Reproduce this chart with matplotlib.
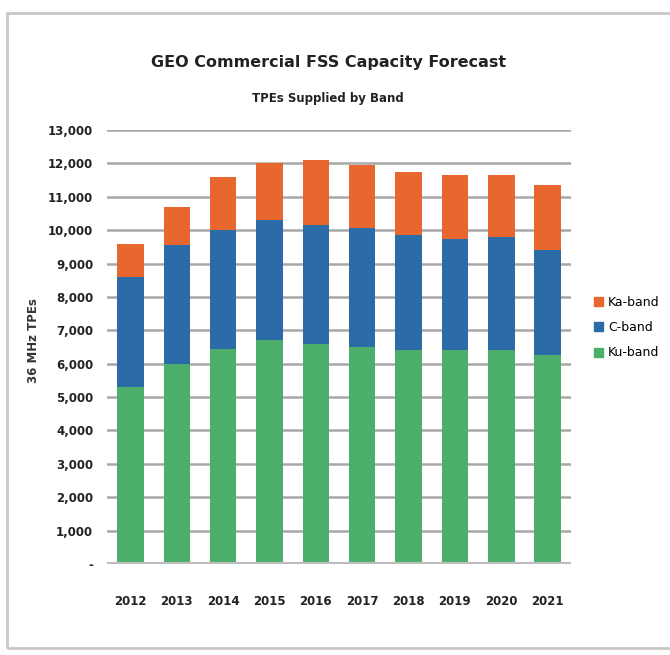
import matplotlib
matplotlib.use("Agg")
import matplotlib.pyplot as plt
from matplotlib.patches import Rectangle, Patch
import numpy as np

years = ["2012", "2013", "2014", "2015", "2016", "2017", "2018", "2019", "2020", "2021"]
ku_band = [5300, 6000, 6450, 6700, 6600, 6500, 6400, 6400, 6400, 6250]
c_band = [3300, 3550, 3550, 3600, 3550, 3550, 3450, 3350, 3400, 3150]
ka_band = [1000, 1150, 1600, 1700, 1950, 1900, 1900, 1900, 1850, 1950]

green = "#4BAE6A"
blue = "#2B6CA8"
orange = "#E8672F"
fam = "DejaVu Sans"

fig = plt.figure(figsize=(6.7, 6.55), dpi=100)
ax = fig.add_axes([0.16, 0.139, 0.692, 0.6625])

x = np.arange(len(years))
w = 0.57
ku = np.array(ku_band)
c = np.array(c_band)
ka = np.array(ka_band)
ax.bar(x, ku, w, color=green, zorder=3)
ax.bar(x, c, w, bottom=ku, color=blue, zorder=3)
ax.bar(x, ka, w, bottom=ku + c, color=orange, zorder=3)

ax.set_xlim(-0.5, 9.5)
ax.set_ylim(0, 13000)
yt = np.arange(0, 13001, 1000)
ax.set_yticks(yt)
ax.set_yticklabels(["-"] + [f"{v:,}" for v in yt[1:]], fontsize=8.5,
                   fontweight="bold", family=fam, color="#222222")
ax.set_xticks(x)
ax.set_xticklabels(years, fontsize=8.5, fontweight="bold", family=fam,
                   color="#222222")
ax.tick_params(length=0)
ax.tick_params(axis="y", pad=10)
ax.tick_params(axis="x", pad=22)
for s in ax.spines.values():
    s.set_visible(False)
for v in yt[1:]:
    ax.axhline(v, color="#A8A8A8", lw=1.8, zorder=1)
ax.axhline(0, color="#BDBDBD", lw=3, zorder=4)

fig.text(0.05, 0.48, "36 MHz TPEs", rotation=90, ha="center", va="center",
         fontsize=8.5, fontweight="bold", family=fam, color="#333333")

fig.text(0.49, 0.905, "GEO Commercial FSS Capacity Forecast", ha="center",
         va="center", fontsize=11.5, fontweight="bold", family=fam, color="#222222")
fig.text(0.49, 0.85, "TPEs Supplied by Band", ha="center", va="center",
         fontsize=8.5, fontweight="bold", family=fam, color="#222222")

handles = [Patch(color=orange), Patch(color=blue), Patch(color=green)]
fig.legend(handles, ["Ka-band", "C-band", "Ku-band"], loc="center left",
           bbox_to_anchor=(0.87, 0.50), frameon=False, handlelength=0.7,
           handleheight=0.7, handletextpad=0.4, labelspacing=1.0,
           prop={"family": fam, "size": 9})

fig.patches.append(Rectangle((0.01, 0.01), 1.1, 0.97, transform=fig.transFigure,
                             fill=False, edgecolor="#C8C8C8", lw=2))

fig.savefig("out.png", dpi=100)
